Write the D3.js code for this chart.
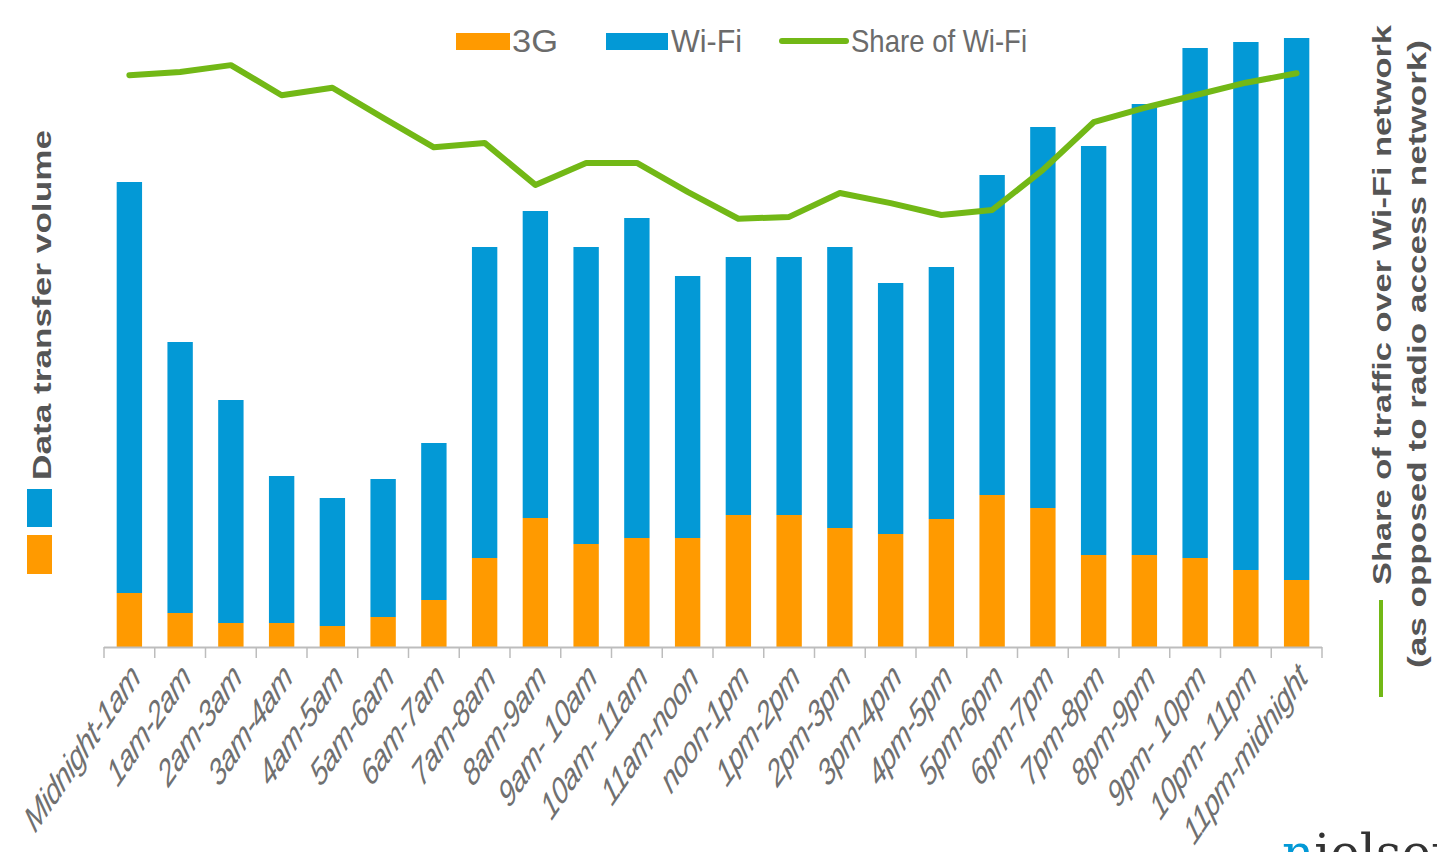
<!DOCTYPE html>
<html>
<head>
<meta charset="utf-8">
<script src="https://cdn.jsdelivr.net/npm/d3@7/dist/d3.min.js"></script>
<style>
  html, body { margin: 0; padding: 0; background: #fff; }
  #chart { width: 1437px; height: 852px; overflow: hidden; }
  text { font-family: "Liberation Sans", Arial, sans-serif; }
</style>
</head>
<body>
<div id="chart"></div>
<script>
// hourly traffic, relative volume units
const hours = ['Midnight-1am','1am-2am','2am-3am','3am-4am','4am-5am','5am-6am','6am-7am','7am-8am',
  '8am-9am','9am- 10am','10am- 11am','11am-noon','noon-1pm','1pm-2pm','2pm-3pm','3pm-4pm','4pm-5pm',
  '5pm-6pm','6pm-7pm','7pm-8pm','8pm-9pm','9pm- 10pm','10pm- 11pm','11pm-midnight'];
const vol3g = [54,34,24,24,21,30,47,89,129,103,109,109,132,132,119,113,128,152,139,92,92,89,77,67];
const volWifi = [411,271,223,147,128,138,157,311,307,297,320,262,258,258,281,251,252,320,381,409,451,510,528,542];
// share of traffic over wi-fi, percent (no scale printed, estimated)
const shareWifi = [91.2,91.7,92.8,88.0,89.2,84.4,79.7,80.4,73.7,77.2,77.2,72.6,68.3,68.6,72.4,70.8,68.9,69.7,76.1,83.7,86.0,88.0,90.0,91.5];

const ORANGE = '#ff9a00', BLUE = '#0399d6', GREEN = '#72b816';
const STRETCH = 1.3; // source image is squashed horizontally

(function(){
  const width = 1437, height = 852;
  const svg = d3.select('#chart').append('svg')
    .attr('width', width).attr('height', height);

  const x = d3.scaleBand().domain(hours).range([104, 1322]).paddingInner(0.5).paddingOuter(0.25);
  const y = d3.scaleLinear().domain([0, 620]).range([647, 27]);
  const yShare = d3.scaleLinear().domain([0, 100]).range([647, 20]);

  const rows = hours.map((h,i)=>({hour:h, g3:vol3g[i], wifi:volWifi[i], share:shareWifi[i]}));
  const stack = d3.stack().keys(['g3','wifi'])(rows);
  const colors = {g3: ORANGE, wifi: BLUE};

  svg.append('g').selectAll('g')
    .data(stack)
    .join('g')
    .attr('fill', d=>colors[d.key])
    .selectAll('rect')
    .data(d=>d)
    .join('rect')
    .attr('x', d=>x(d.data.hour))
    .attr('width', x.bandwidth())
    .attr('y', d=>y(d[1]))
    .attr('height', d=>y(d[0]) - y(d[1]));

  // x axis: line + ticks at band edges
  const ax = svg.append('g');
  ax.append('line').attr('x1',104).attr('x2',1322).attr('y1',647.5).attr('y2',647.5)
    .attr('stroke','#bdbdbd').attr('stroke-width',2);
  const step = x.step();
  ax.selectAll('line.tick')
    .data(d3.range(hours.length + 1))
    .join('line')
    .attr('class','tick')
    .attr('x1', i=>104 + i*step).attr('x2', i=>104 + i*step)
    .attr('y1', 647).attr('y2', 658)
    .attr('stroke','#bdbdbd').attr('stroke-width',1.5);

  ax.selectAll('text.lbl')
    .data(hours)
    .join('text')
    .attr('class','lbl')
    .attr('transform', d=>`translate(${x(d)+x.bandwidth()/2+12},${680}) scale(1,1.45) rotate(-45)`)
    .attr('text-anchor','end')
    .attr('fill','#707070')
    .style('font-size','26px')
    .style('font-style','italic')
    .style('letter-spacing','-0.6px')
    .text(d=>d);

  // share line
  const line = d3.line()
    .x(d=>x(d.hour)+x.bandwidth()/2)
    .y(d=>yShare(d.share));
  svg.append('path')
    .datum(rows)
    .attr('d', line)
    .attr('fill','none')
    .attr('stroke', GREEN)
    .attr('stroke-width', 6)
    .attr('stroke-linejoin','round')
    .attr('stroke-linecap','round');

  // legend
  const leg = svg.append('g').attr('fill','#6b6b6b').style('font-size','24px');
  leg.append('rect').attr('x',456).attr('y',33).attr('width',54).attr('height',17).attr('fill',ORANGE);
  leg.append('text').attr('transform',`translate(512,52) scale(1,${STRETCH})`)
    .attr('textLength',46).attr('lengthAdjust','spacingAndGlyphs').text('3G');
  leg.append('rect').attr('x',606).attr('y',33).attr('width',62).attr('height',17).attr('fill',BLUE);
  leg.append('text').attr('transform',`translate(671,52) scale(1,${STRETCH})`)
    .attr('textLength',71).attr('lengthAdjust','spacingAndGlyphs').text('Wi-Fi');
  leg.append('line').attr('x1',782).attr('x2',846).attr('y1',41).attr('y2',41)
    .attr('stroke',GREEN).attr('stroke-width',6).attr('stroke-linecap','round');
  leg.append('text').attr('transform',`translate(851,52) scale(1,${STRETCH})`)
    .attr('textLength',176).attr('lengthAdjust','spacingAndGlyphs').text('Share of Wi-Fi');

  // left title
  svg.append('rect').attr('x',27).attr('y',489).attr('width',25).attr('height',38).attr('fill',BLUE);
  svg.append('rect').attr('x',27).attr('y',535).attr('width',25).attr('height',39).attr('fill',ORANGE);
  svg.append('text')
    .attr('transform','translate(51,480) rotate(-90)')
    .attr('fill','#555').style('font-weight','bold').style('font-size','25px')
    .attr('textLength',350).attr('lengthAdjust','spacingAndGlyphs')
    .text('Data transfer volume');

  // right title
  svg.append('line').attr('x1',1381).attr('x2',1381).attr('y1',600).attr('y2',697)
    .attr('stroke',GREEN).attr('stroke-width',4);
  svg.append('text')
    .attr('transform','translate(1391,585) rotate(-90)')
    .attr('fill','#555').style('font-weight','bold').style('font-size','25px')
    .attr('textLength',560).attr('lengthAdjust','spacingAndGlyphs')
    .text('Share of traffic over Wi-Fi network');
  svg.append('text')
    .attr('transform','translate(1426,668) rotate(-90)')
    .attr('fill','#555').style('font-weight','bold').style('font-size','25px')
    .attr('textLength',628).attr('lengthAdjust','spacingAndGlyphs')
    .text('(as opposed to radio access network)');

  // logo, cut off at the bottom edge as in the source
  const logo = svg.append('text').attr('x',1282).attr('y',870)
    .style('font-family','"DejaVu Serif", serif').style('font-size','50px').attr('fill','#333');
  logo.append('tspan').attr('fill',BLUE).text('n');
  logo.append('tspan').text('ielsen');
})();
</script>
</body>
</html>
